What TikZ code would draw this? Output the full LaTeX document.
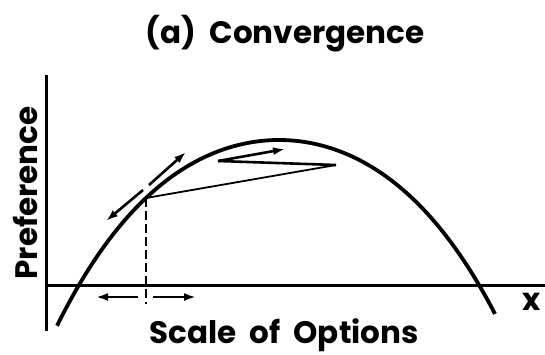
\documentclass[tikz,border=0pt]{standalone}
\usepackage{fontspec}
\setmainfont{Poppins}
\usetikzlibrary{arrows.meta}
\begin{document}
\begin{tikzpicture}[x=1pt,y=-1pt,
  axis/.style={line width=3pt},
  curve/.style={line width=3.8pt},
  thinline/.style={line width=1.8pt, line join=miter},
  arr/.style={line width=2.6pt, -{Latex[length=12pt,width=8pt]}},
  dashline/.style={line width=2pt, dash pattern=on 9pt off 4pt},
  lbl/.style={font=\fontsize{31}{36}\selectfont\bfseries, inner sep=0pt}]
\useasboundingbox (0,0) rectangle (545,354);
% axes
\coordinate (O) at (46,285);
\coordinate (ytop) at (46,75);
\coordinate (ybot) at (46,331);
\coordinate (xend) at (545,285);
\draw[axis] (ytop) -- (ybot);
\draw[axis] (O) -- (xend);
% curve
\draw[curve] plot[domain=-222:216, samples=120, smooth] ({279+\x}, {140+30*(\x/100)^2+1.56*(\x/100)^4});
% point on curve
\coordinate (P0) at (146,198);
\coordinate (Pfoot) at (146,304);
\draw[dashline] (P0) -- (Pfoot);
% tangent arrows
\coordinate (tu) at (149,185);
\coordinate (tutip) at (186,152);
\coordinate (tl) at (143,190);
\coordinate (tltip) at (106,221);
\draw[arr] (tu) -- (tutip);
\draw[arr] (tl) -- (tltip);
% horizontal arrows
\coordinate (hl) at (138,297);
\coordinate (hltip) at (96,297);
\coordinate (hr) at (153,297);
\coordinate (hrtip) at (196,297);
\draw[arr] (hl) -- (hltip);
\draw[arr] (hr) -- (hrtip);
% zigzag
\coordinate (P1) at (336,165);
\coordinate (P2) at (218,161);
\coordinate (P3) at (285,149);
\draw[thinline] (P0) -- (P1);
\draw[line width=2.6pt] (P1) -- (P2);
\draw[arr] (P2) -- (P3);
% labels
\node[lbl, anchor=base] (title) at (285,43) {(a)\ \ Convergence};
\node[lbl, anchor=base] (xlab) at (284,343) {Scale\ \ of\ \ Options};
\node[lbl, anchor=center] (x) at (532,302) {x};
\node[lbl, anchor=base, rotate=90] (ylab) at (37,193) {Preference};
\end{tikzpicture}
\end{document}
